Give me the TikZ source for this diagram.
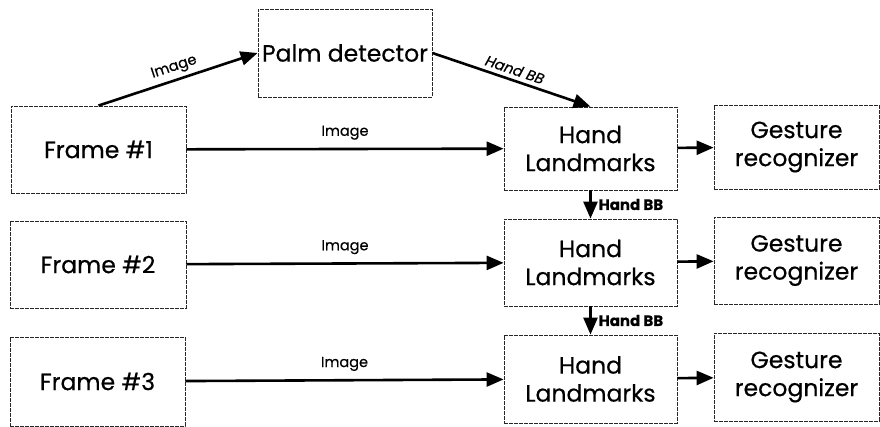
\documentclass[tikz,border=0pt]{standalone}
\usepackage{fontspec}
\setmainfont{Poppins}[FakeBold=0.5]
\usetikzlibrary{arrows.meta}
\begin{document}
\begin{tikzpicture}[x=1pt,y=-1pt,
  box/.style={draw=black!85, line width=0.8pt, dash pattern=on 4pt off 1pt, inner sep=0pt, align=center, font=\fontsize{23.5}{28}\selectfont},
  conn/.style={line width=2.6pt, -{Triangle[length=17pt,width=14pt]}},
  lbl/.style={font=\fontsize{14.5}{16}\selectfont, inner sep=1pt}]
\useasboundingbox (0,0) rectangle (880,427);
\node[box, minimum width=174pt, minimum height=88pt] (palm) at (345,53) {Palm detector};
\node[box, minimum width=175pt, minimum height=87pt] (f1) at (98.5,149.5) {Frame \#1};
\node[box, minimum width=176pt, minimum height=87pt] (f2) at (98,264.5) {Frame \#2};
\node[box, minimum width=175pt, minimum height=89pt] (f3) at (97.5,381.5) {Frame \#3};
\node[box, minimum width=173pt, minimum height=83pt] (hl1) at (590.5,148.5) {Hand\\Landmarks};
\node[box, minimum width=173pt, minimum height=87pt] (hl2) at (590.5,262.5) {Hand\\Landmarks};
\node[box, minimum width=173pt, minimum height=88pt] (hl3) at (590.5,379) {Hand\\Landmarks};
\node[box, minimum width=165pt, minimum height=84pt] (g1) at (796.5,147) {Gesture\\recognizer};
\node[box, minimum width=165pt, minimum height=87pt] (g2) at (796.5,260.5) {Gesture\\recognizer};
\node[box, minimum width=165pt, minimum height=88pt] (g3) at (796.5,377) {Gesture\\recognizer};
\draw[conn] (f1.north) -- node[lbl, sloped, above=3pt] {Image} (palm.west);
\draw[conn] (palm.east) -- node[lbl, sloped, above=3pt, font=\fontsize{14.5}{16}\selectfont\itshape] {Hand BB} (hl1.north);
\draw[conn] (f1) -- node[lbl, above=7pt] {Image} (hl1);
\draw[conn] (f2) -- node[lbl, above=7pt] {Image} (hl2);
\draw[conn] (f3) -- node[lbl, above=7pt] {Image} (hl3);
\draw[conn] (hl1) -- (g1);
\draw[conn] (hl2) -- (g2);
\draw[conn] (hl3) -- (g3);
\draw[conn] (hl1) -- node[lbl, right=6pt, font=\fontsize{15}{16}\selectfont\bfseries] {Hand BB} (hl2);
\draw[conn] (hl2) -- node[lbl, right=6pt, font=\fontsize{15}{16}\selectfont\bfseries] {Hand BB} (hl3);
\end{tikzpicture}
\end{document}
